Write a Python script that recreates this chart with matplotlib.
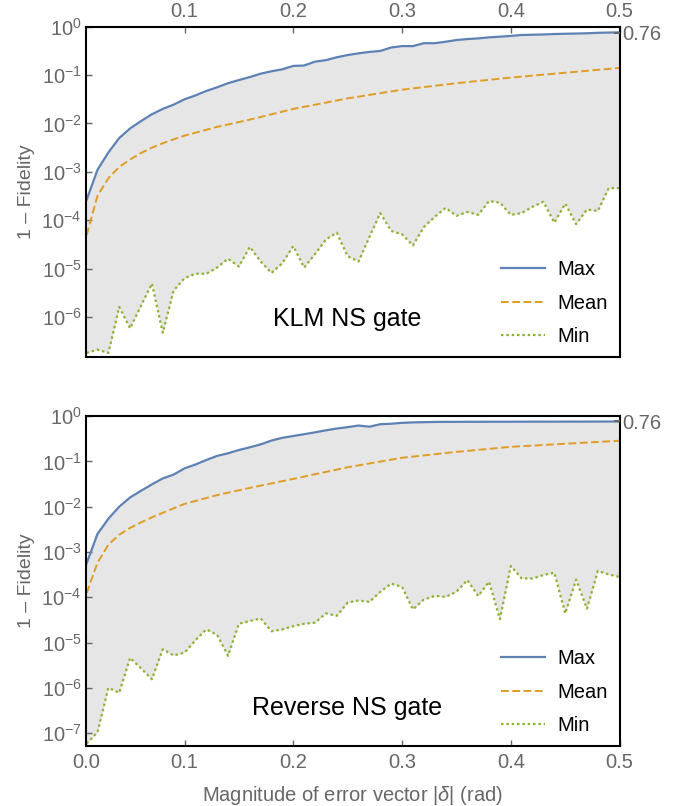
import numpy as np
import matplotlib
matplotlib.use('Agg')
import matplotlib.pyplot as plt
from matplotlib.ticker import FixedLocator, FixedFormatter, NullLocator

plt.rcParams['font.family'] = ['Liberation Sans', 'DejaVu Sans']
plt.rcParams['mathtext.fontset'] = 'custom'
plt.rcParams['mathtext.rm'] = 'Liberation Sans'
plt.rcParams['mathtext.it'] = 'Liberation Sans:italic'

# |delta| grid (rad), 0.01 ... 0.50
delta = np.linspace(0.01, 0.5, 50)

# KLM NS gate
klm_max = [2.63e-4, 1.10e-3, 2.51e-3, 5.0e-3, 7.9e-3, 1.12e-2, 1.55e-2, 2.0e-2, 2.45e-2, 3.16e-2,
           3.8e-2, 4.7e-2, 5.6e-2, 6.8e-2, 7.9e-2, 9.1e-2, 0.107, 0.120, 0.132, 0.155,
           0.158, 0.19, 0.204, 0.234, 0.26, 0.282, 0.302, 0.316, 0.372, 0.398,
           0.398, 0.457, 0.457, 0.49, 0.531, 0.556, 0.575, 0.603, 0.624, 0.646,
           0.676, 0.684, 0.692, 0.708, 0.716, 0.724, 0.733, 0.75, 0.759, 0.764]
klm_min = [1.8e-7, 2.1e-7, 1.8e-7, 1.6e-6, 5.8e-7, 1.7e-6, 4.9e-6, 4.7e-7, 3.5e-6, 6.3e-6,
           7.8e-6, 7.8e-6, 1.05e-5, 1.6e-5, 1.1e-5, 2.8e-5, 1.4e-5, 8.1e-6, 1.3e-5, 2.9e-5,
           1.05e-5, 2.0e-5, 4.0e-5, 5.5e-5, 1.8e-5, 1.4e-5, 4.5e-5, 1.4e-4, 6.0e-5, 5.1e-5,
           3.0e-5, 7.2e-5, 1.17e-4, 1.8e-4, 1.23e-4, 1.48e-4, 1.29e-4, 2.5e-4, 2.3e-4, 1.29e-4,
           1.4e-4, 1.9e-4, 2.4e-4, 8.9e-5, 2.2e-4, 8.3e-5, 1.66e-4, 1.55e-4, 4.6e-4, 4.6e-4]
mean_x = [0.01, 0.02, 0.03, 0.04, 0.05, 0.06, 0.07, 0.08, 0.09, 0.10, 0.13, 0.16, 0.20,
          0.25, 0.30, 0.35, 0.40, 0.45, 0.50]
klm_mean = [4.9e-5, 3.2e-4, 7.4e-4, 1.26e-3, 1.8e-3, 2.45e-3, 3.15e-3, 3.9e-3, 4.7e-3, 5.6e-3,
            8.5e-3, 1.2e-2, 2.0e-2, 3.3e-2, 5.0e-2, 6.8e-2, 8.9e-2, 0.112, 0.141]

# Reverse NS gate
rev_max = [5.6e-4, 2.5e-3, 5.4e-3, 1.0e-2, 1.6e-2, 2.24e-2, 3.1e-2, 4.2e-2, 5.1e-2, 7.0e-2,
           8.5e-2, 0.107, 0.132, 0.151, 0.178, 0.204, 0.237, 0.288, 0.331, 0.363,
           0.398, 0.437, 0.484, 0.531, 0.569, 0.617, 0.582, 0.661, 0.676, 0.708,
           0.724, 0.733, 0.741, 0.745, 0.746, 0.747, 0.748, 0.749, 0.75, 0.75,
           0.751, 0.752, 0.752, 0.753, 0.754, 0.754, 0.755, 0.756, 0.757, 0.757]
rev_min = [5.9e-8, 1.05e-7, 1.0e-6, 7.8e-7, 4.6e-6, 2.7e-6, 1.55e-6, 7.1e-6, 5.2e-6, 6.0e-6,
           1.12e-5, 1.95e-5, 1.48e-5, 5.1e-6, 2.6e-5, 3.0e-5, 3.4e-5, 1.78e-5, 1.95e-5, 2.3e-5,
           2.6e-5, 2.75e-5, 4.4e-5, 3.9e-5, 7.6e-5, 8.5e-5, 7.9e-5, 1.32e-4, 2.0e-4, 1.7e-4,
           5.4e-5, 8.9e-5, 1.07e-4, 1.02e-4, 1.32e-4, 2.4e-4, 1.07e-4, 2.2e-4, 3.3e-5, 4.9e-4,
           2.6e-4, 2.6e-4, 3.1e-4, 3.5e-4, 4.4e-5, 2.45e-4, 5.6e-5, 3.8e-4, 3.2e-4, 2.8e-4]
rev_mean = [1.23e-4, 5.8e-4, 1.45e-3, 2.4e-3, 3.4e-3, 4.5e-3, 5.8e-3, 7.3e-3, 9.2e-3, 1.15e-2,
            1.8e-2, 2.6e-2, 4.1e-2, 7.4e-2, 0.12, 0.162, 0.209, 0.245, 0.285]

x_ticks = [0.1, 0.2, 0.3, 0.4, 0.5]
x_labels = ['0.1', '0.2', '0.3', '0.4', '0.5']

grey = '#666666'
c_max, c_mean, c_min = '#5e81b5', '#e19c24', '#8fb032'
tick_fs = 14.5


def panel(ax, ymax, ymean, ymin, ylo, ndec, name, top_axis):
    ax.fill_between(delta, ymin, ymax, color='#e6e6e6', lw=0)
    ax.plot(delta, ymax, color=c_max, lw=1.6, label='Max')
    ax.plot(mean_x, ymean, color=c_mean, lw=1.4, ls=(0, (4, 1.8)), label='Mean')
    ax.plot(delta, ymin, color=c_min, lw=1.6, ls=(0, (1.1, 1.3)), label='Min')
    ax.set_yscale('log')
    xlo = 0.0094
    ax.set_xlim(xlo, 0.5)
    ax.set_ylim(ylo, 1)

    yt = [10.0 ** (-k) for k in range(ndec + 1)]
    ax.yaxis.set_major_locator(FixedLocator(yt))
    ax.yaxis.set_major_formatter(FixedFormatter(['$10^{%d}$' % (-k) if k else '$10^{0}$' for k in range(ndec + 1)]))
    ax.yaxis.set_minor_locator(NullLocator())
    ax.tick_params(axis='y', which='major', direction='in', length=4, width=1,
                   colors=grey, labelsize=tick_fs, pad=3, left=True, right=False)

    if top_axis:
        ax.set_xticks(x_ticks)
        ax.set_xticklabels(x_labels)
        ax.tick_params(axis='x', direction='in', length=4, width=1, colors=grey, labelsize=tick_fs,
                       top=True, bottom=False, labeltop=True, labelbottom=False, pad=4)
    else:
        ax.set_xticks([xlo] + x_ticks)
        ax.set_xticklabels(['0.0'] + x_labels)
        ax.tick_params(axis='x', direction='in', length=4, width=1, colors=grey, labelsize=tick_fs,
                       top=False, bottom=True, pad=5)

    for s in ax.spines.values():
        s.set_linewidth(1.5)
        s.set_color('black')

    ax.set_ylabel('1 \u2013 Fidelity', color=grey, fontsize=14, labelpad=5)
    ax.text(0.49, 0.115, name, transform=ax.transAxes, fontsize=18,
            ha='center', va='center', color='black')
    ax.legend(loc='upper left', bbox_to_anchor=(0.778, 0.293), frameon=False,
              fontsize=14.5, handlelength=2.2, handletextpad=0.6, labelspacing=0.72,
              borderpad=0, borderaxespad=0)

    # right-hand marker for the plateau value
    axr = ax.twinx()
    axr.set_yscale('log')
    axr.set_ylim(ylo, 1)
    axr.yaxis.set_major_locator(FixedLocator([0.76]))
    axr.yaxis.set_major_formatter(FixedFormatter(['0.76']))
    axr.yaxis.set_minor_locator(NullLocator())
    axr.tick_params(axis='y', direction='in', length=4, width=1.5, colors=grey,
                    labelsize=tick_fs, pad=2)
    for s in axr.spines.values():
        s.set_visible(False)


fig = plt.figure(figsize=(6.85, 8.06), dpi=100)
ax1 = fig.add_axes([0.1255, 0.5574, 0.779, 0.4094])
ax2 = fig.add_axes([0.1255, 0.0744, 0.779, 0.4094])

panel(ax1, klm_max, klm_mean, klm_min, 1.5e-7, 6, 'KLM NS gate', True)
panel(ax2, rev_max, rev_mean, rev_min, 5.2e-8, 7, 'Reverse NS gate', False)

ax2.set_xlabel('Magnitude of error vector |$\\mathit{\\delta}$| (rad)', color=grey,
               fontsize=14.5, labelpad=9)

fig.savefig('out.png', dpi=100)
